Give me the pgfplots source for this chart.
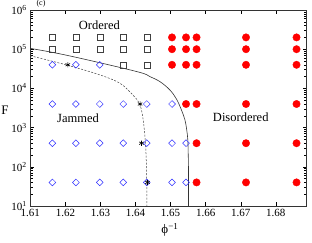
\documentclass[border=0pt]{standalone}
\usepackage{fontspec}
\setmainfont{Liberation Serif}
\usepackage{pgfplots}
\pgfplotsset{compat=1.18}
\definecolor{sqgray}{HTML}{404040}
\definecolor{dblue}{HTML}{3030FF}
\begin{document}
\begin{tikzpicture}
\begin{axis}[
  at={(0,0)}, anchor=south west,
  scale only axis, width=276.4pt, height=196pt,
  xmin=1.61, xmax=1.6888, ymode=log, ymin=10, ymax=1e6,
  xtick={1.61,1.62,1.63,1.64,1.65,1.66,1.67,1.68},
  xticklabels={1.61,1.62,1.63,1.64,1.65,1.66,1.67,1.68},
  ytick={10,100,1000,10000,100000,1000000},
  yticklabels={10\textsuperscript{1},10\textsuperscript{2},10\textsuperscript{3},10\textsuperscript{4},10\textsuperscript{5},10\textsuperscript{6}},
  tick label style={font=\fontsize{11}{11}\selectfont},
  major tick length=4pt, minor tick length=2.5pt,
  tick style={black, line width=0.5pt},
  axis line style={line width=0.6pt, black!80},
]
% solid boundary
\addplot[black!80, line width=0.6pt, smooth, tension=0.6] coordinates {
 (1.6100,1.05e5) (1.6185,7.6e4) (1.6299,4.5e4) (1.6413,2.55e4) (1.6441,2.0e4)
 (1.6470,1.48e4) (1.6498,9.1e3) (1.6517,5.3e3) (1.6531,2.8e3) (1.6541,1.56e3)
 (1.6546,870) (1.6549,500) (1.6550,250) (1.6551,80) (1.6551,10)};
% dashed boundary
\addplot[black!75, line width=0.5pt, dash pattern=on 2pt off 1.5pt, smooth, tension=0.5] coordinates {
 (1.6100,6.8e4) (1.6204,3.95e4) (1.6299,2.2e4) (1.6356,1.35e4) (1.6393,6.7e3)
 (1.6412,4e3) (1.6422,1.55e3) (1.6429,3.2e2) (1.6432,46) (1.6432,10)};
% ordered (squares)
\addplot[only marks, mark=square, mark size=3pt, sqgray, line width=0.5pt] coordinates {
 (1.6163,2e5) (1.6230,2e5) (1.6298,2e5) (1.6365,2e5) (1.6432,2e5)
 (1.6163,1e5) (1.6230,1e5) (1.6298,1e5) (1.6365,1e5) (1.6432,1e5)
 (1.6365,4e4) (1.6432,4e4)};
% jammed (diamonds)
\addplot[only marks, mark=square, mark size=2.4pt, mark options={rotate=45}, dblue, line width=0.5pt] coordinates {
 (1.6163,4e4) (1.6230,4e4) (1.6298,4e4)
 (1.6163,4e3) (1.6230,4e3) (1.6298,4e3) (1.6365,4e3) (1.6432,4e3) (1.6504,4e3)
 (1.6163,4e2) (1.6230,4e2) (1.6298,4e2) (1.6365,4e2) (1.6432,4e2) (1.6504,4e2) (1.6544,4e2)
 (1.6163,40) (1.6230,40) (1.6298,40) (1.6365,40) (1.6432,40) (1.6504,40) (1.6544,40)};
% disordered (red circles)
\addplot[only marks, mark=*, mark size=3.7pt, red, mark options={fill=red, draw=red}] coordinates {
 (1.6504,2e5) (1.6544,2e5) (1.6574,2e5) (1.6715,2e5) (1.6859,2e5)
 (1.6504,1e5) (1.6544,1e5) (1.6574,1e5) (1.6715,1e5) (1.6859,1e5)
 (1.6504,4e4) (1.6544,4e4) (1.6574,4e4) (1.6715,4e4) (1.6859,4e4)
 (1.6544,4e3) (1.6574,4e3) (1.6715,4e3) (1.6859,4e3)
 (1.6574,4e2) (1.6715,4e2) (1.6859,4e2)
 (1.6574,40) (1.6715,40) (1.6859,40)};
% stars
\addplot[only marks, mark=asterisk, mark size=2.6pt, black, line width=0.6pt] coordinates {
 (1.6207,4e4) (1.6413,4e3) (1.6417,4e2) (1.6434,40)};
\node[font=\fontsize{12.5}{12.5}\selectfont] at (axis cs:1.6297,4.14e5) {Ordered};
\node[font=\fontsize{12.5}{12.5}\selectfont] at (axis cs:1.6236,1.76e3) {Jammed};
\node[font=\fontsize{12.5}{12.5}\selectfont] at (axis cs:1.6700,1.86e3) {Disordered};
\end{axis}
\node[font=\fontsize{13}{13}\selectfont] at (-25.3pt,96pt) {F};
\node[font=\fontsize{13}{13}\selectfont] at (139.7pt,-24pt) {ϕ\textsuperscript{−1}};
\node[font=\fontsize{8}{8}\selectfont] at (10.7pt,202pt) {(c)};
\pgfresetboundingbox
\path (-30.3pt,-36pt) rectangle (281.7pt,206pt);
\end{tikzpicture}
\end{document}
